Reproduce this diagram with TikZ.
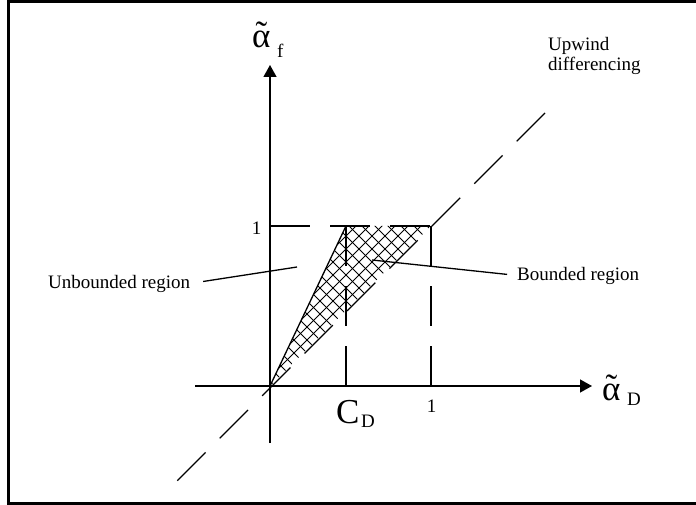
\documentclass[tikz,border=0pt]{standalone}
\usepackage{fontspec}
\setmainfont{Liberation Serif}
\usetikzlibrary{arrows.meta,positioning}
\newcommand{\talpha}{\leavevmode\rlap{\hbox to \fontcharwd\font`α{\hss\raisebox{2pt}{˜}\hss}}α}

\begin{document}
\begin{tikzpicture}[
x=1pt, y=-1pt,
axis/.style={line width=1.3pt, -{Triangle[length=12pt,width=13pt]}},
guide/.style={line width=1.3pt, dash pattern=on 40pt off 20pt},
leader/.style={line width=1.3pt},
hatch/.style={line width=0.9pt},
lbl/.style={inner sep=0pt, font=\fontsize{19}{20}\selectfont},
big/.style={inner sep=0pt, font=\fontsize{35}{35}\selectfont}
]
\useasboundingbox (0,0) rectangle (696,505);
\draw[line width=3pt] (700,1.5) -- (8.5,1.5) -- (8.5,503.5) -- (700,503.5);

% key points
\coordinate (O) at (270,386);
\coordinate (yone) at (270,226);
\coordinate (cdtop) at (346,226);
\coordinate (onetop) at (431,226);
\coordinate (cdbot) at (346,386);
\coordinate (onebot) at (431,386);
\coordinate (xstart) at (195,386);
\coordinate (xend) at (592,386);
\coordinate (ystart) at (270,443);
\coordinate (yend) at (270,65);
\coordinate (udhigh) at (545,113);
\coordinate (udlow) at (177,481);

% bounded region
\begin{scope}
\clip (O) -- (cdtop) -- (onetop) -- cycle;
\foreach \c in {-137,-124,...,216} \draw[hatch] (\c+200,200) -- (\c+400,400);
\foreach \c in {478,491,...,680} \draw[hatch] (\c-200,200) -- (\c-400,400);
\end{scope}
\draw[leader] (O) -- (cdtop);

\draw[guide] (udhigh) -- (udlow);
\draw[guide] (yone) -- (onetop);
\draw[guide] (cdtop) -- (cdbot);
\draw[guide] (onetop) -- (onebot);

\draw[axis] (xstart) -- (xend);
\draw[axis] (ystart) -- (yend);

% labels
\node[big, anchor=base west] (alphaf) at (252,48) {\talpha};
\node[lbl, anchor=base west] (subf) at (277,58) {f};
\node[big, anchor=base west] (alphad) at (602,400) {\talpha};
\node[lbl, anchor=base west] (subd) at (627,405) {D};
\node[big, anchor=base west] (cd) at (336,423) {C};
\node[lbl, anchor=base west] (subcd) at (361,427) {D};
\node[lbl, anchor=base] (ytick) at (256.5,235) {1};
\node[lbl, anchor=base] (xtick) at (431.5,412) {1};
\node[lbl, anchor=base west, align=left] (upwind) at (548,71) {Upwind\\differencing};
\node[lbl, anchor=base west] (unb) at (48,288) {Unbounded region};
\node[lbl, anchor=base west] (bnd) at (517,280) {Bounded region};

\coordinate (unbtip) at (297,267);
\coordinate (bndtip) at (372,260);
\draw[leader, shorten <=13pt] (unb.east) -- (unbtip);
\draw[leader, shorten <=10pt] (bnd.west) -- (bndtip);
\end{tikzpicture}
\end{document}
